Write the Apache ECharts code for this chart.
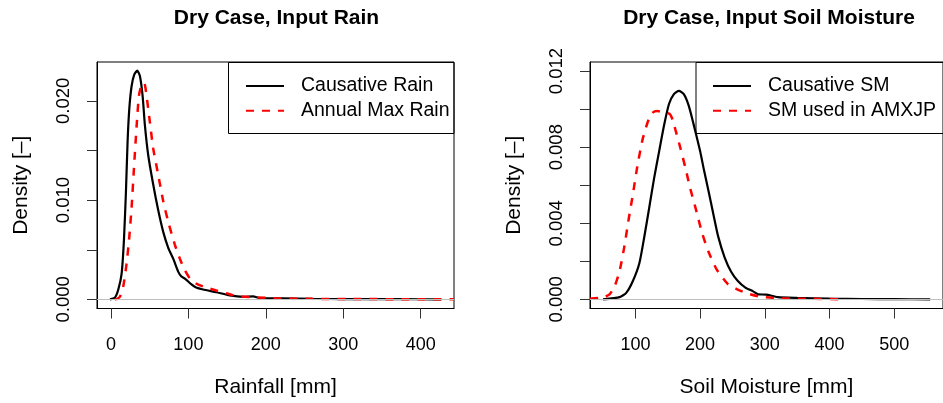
<!DOCTYPE html>
<html>
<head>
<meta charset="utf-8">
<script src="https://cdn.jsdelivr.net/npm/echarts@6/dist/echarts.min.js"></script>
<style>
html,body{margin:0;padding:0;background:#fff;}
#chart{width:943px;height:403px;}
</style>
</head>
<body>
<div id="chart"></div>
<script>
// ---- Data ----
const causativeRainX = [-1.3, 5, 9.5, 13.8, 16.8, 19.4, 21.5, 23.7, 26.7, 30.1, 34, 37.4, 40.9, 43.9, 48.1, 54.6, 61, 67.5, 74, 80.4, 86.8, 91, 95.5, 104, 110, 119, 136, 153.5, 170.7, 183.6, 192, 222, 260, 300, 350, 400, 426.7];
const causativeRainY = [0, 0.00016, 0.001, 0.0026, 0.006, 0.0109, 0.0159, 0.0192, 0.0215, 0.02265, 0.02305, 0.0225, 0.0205, 0.0175, 0.01455, 0.01157, 0.0090, 0.0068, 0.0052, 0.0041, 0.0028, 0.0023, 0.0021, 0.0015, 0.0012, 0.0010, 0.00072, 0.0004, 0.00026, 0.0003, 0.00013, 0.0001, 0.00005, 0.00003, 0.00002, 0.00001, 0];

const annualMaxRainX = [5, 8, 11.6, 15.9, 20.2, 23.7, 26.7, 29.7, 33.2, 36.1, 39.6, 43, 46, 50.3, 54.6, 61, 67.5, 74, 82.6, 89, 95, 102, 110, 119, 136, 150, 162, 188, 214, 260, 320, 380, 443];
const annualMaxRainY = [0, 0.00005, 0.00026, 0.0013, 0.0036, 0.0063, 0.0093, 0.0132, 0.0175, 0.0205, 0.02166, 0.0218, 0.0205, 0.01785, 0.0152, 0.01256, 0.0099, 0.0078, 0.0055, 0.0041, 0.0030, 0.0021, 0.0016, 0.0013, 0.0009, 0.0006, 0.00033, 0.0002, 0.0001, 0.00005, 0.00003, 0.00002, 0.00001];

const causativeSMX = [50, 75.6, 85.8, 95.9, 106.1, 113.7, 121.4, 129, 136.6, 144.3, 151.9, 159.5, 167.2, 174.8, 182.4, 190, 200, 206, 213, 221, 228, 238, 248, 258, 270, 282, 290, 302, 320, 350, 400, 450, 500, 555.7];
const causativeSMY = [0, 0.00012, 0.00034, 0.00095, 0.0019, 0.00328, 0.00483, 0.00639, 0.00777, 0.00915, 0.01027, 0.01079, 0.01096, 0.01079, 0.01019, 0.0092, 0.0078, 0.0068, 0.0057, 0.0044, 0.0033, 0.0022, 0.00145, 0.00098, 0.00062, 0.00042, 0.00026, 0.00025, 0.00012, 0.00008, 0.00004, 0.00002, 0.00001, 0];

const smAmxjpX = [30, 50, 60, 68, 75.6, 83, 89.5, 96, 103, 111, 118.8, 126, 134, 144, 153, 158, 162, 170, 177.4, 185, 193, 203, 213, 226, 243, 259, 274, 294, 330, 370, 414];
const smAmxjpY = [0.00003, 0.0001, 0.00026, 0.0007, 0.0015, 0.0028, 0.0042, 0.0055, 0.0070, 0.0084, 0.0093, 0.0098, 0.0099, 0.00982, 0.00975, 0.0094, 0.0089, 0.0079, 0.0069, 0.0058, 0.0048, 0.0035, 0.0025, 0.00155, 0.0008, 0.0005, 0.0003, 0.00013, 0.00005, 0.00003, 0.00001];

const rainXTicks = [0, 100, 200, 300, 400];
const rainYTicks = [0, 0.005, 0.010, 0.015, 0.020];
const rainYLabels = [0, 0.010, 0.020];
const smXTicks = [100, 200, 300, 400, 500];
const smYTicks = [0, 0.002, 0.004, 0.006, 0.008, 0.010, 0.012];
const smYLabels = [0, 0.004, 0.008, 0.012];

const titles = ['Dry Case, Input Rain', 'Dry Case, Input Soil Moisture'];
const seriesNames = ['Causative Rain', 'Annual Max Rain', 'Causative SM', 'SM used in AMXJP'];

// ---- Chart ----
const FONT = 'Liberation Sans, Arial, Helvetica, sans-serif';
const zip = (xs, ys) => xs.map((x, i) => [x, ys[i]]);

function xAxisCfg(gridIndex, min, max, ticks, name) {
  return {
    type: 'value', gridIndex, min, max,
    name, nameLocation: 'middle', nameGap: 68.5,
    nameTextStyle: {fontSize: 21, color: '#000', fontFamily: FONT},
    axisLine: {show: true, onZero: false, lineStyle: {color: '#000', width: 1}},
    axisTick: {show: true, inside: false, length: 10, customValues: ticks, lineStyle: {color: '#333', width: 1}},
    axisLabel: {show: true, customValues: ticks, margin: 28, fontSize: 18, color: '#000', fontFamily: FONT},
    splitLine: {show: false}
  };
}
function yAxisCfg(gridIndex, min, max, ticks, labels) {
  return {
    type: 'value', gridIndex, min, max,
    name: 'Density [–]', nameLocation: 'middle', nameGap: 65.5, nameRotate: 90,
    nameTextStyle: {fontSize: 21, color: '#000', fontFamily: FONT},
    axisLine: {show: true, onZero: false, lineStyle: {color: '#000', width: 1}},
    axisTick: {show: true, inside: false, length: 10, customValues: ticks, lineStyle: {color: '#333', width: 1}},
    axisLabel: {show: true, customValues: labels, rotate: 90, margin: 24, fontSize: 18.5, color: '#000', fontFamily: FONT,
      formatter: v => v.toFixed(3)},
    splitLine: {show: false}
  };
}
const zeroLine = {
  silent: true, symbol: 'none', label: {show: false},
  lineStyle: {color: '#bebebe', type: 'solid', width: 1},
  data: [{yAxis: 0}]
};
function lineSeries(name, idx, data, color, dashed, withZero) {
  const s = {
    name, type: 'line', xAxisIndex: idx, yAxisIndex: idx, data,
    symbol: 'none', showSymbol: false, smooth: 0.2, clip: true,
    lineStyle: {color, width: dashed ? 2.5 : 2.2, type: dashed ? [8, 8] : 'solid', cap: 'butt'},
    itemStyle: {color},
    emphasis: {disabled: true}, animation: false, z: dashed ? 3 : 2
  };
  if (withZero) s.markLine = zeroLine;
  return s;
}
function legendCfg(names, left) {
  return {
    data: names, orient: 'vertical', left, top: 76, padding: 0,
    itemWidth: 38, itemHeight: 18, itemGap: 4.8,
    selectedMode: false,
    itemStyle: {opacity: 0},
    textStyle: {fontSize: 19.5, color: '#000', fontFamily: FONT, padding: [0, 0, 0, 12]}
  };
}

const chart = echarts.init(document.getElementById('chart'), null, {renderer: 'canvas'});
chart.setOption({
  animation: false,
  backgroundColor: '#fff',
  title: [
    {text: titles[0], left: 271.5, top: 3, textAlign: 'center', textStyle: {fontSize: 21, fontWeight: 'bold', color: '#000', fontFamily: FONT}},
    {text: titles[1], left: 764, top: 3, textAlign: 'center', textStyle: {fontSize: 21, fontWeight: 'bold', color: '#000', fontFamily: FONT}}
  ],
  grid: [
    {left: 97, top: 62, width: 357, height: 250, show: true, borderColor: '#000', borderWidth: 1, backgroundColor: 'transparent', containLabel: false},
    {left: 590, top: 62, width: 357, height: 250, show: true, borderColor: '#000', borderWidth: 1, backgroundColor: 'transparent', containLabel: false}
  ],
  xAxis: [
    xAxisCfg(0, -18, 443, rainXTicks, 'Rainfall [mm]'),
    xAxisCfg(1, 29.8, 575.5, smXTicks, 'Soil Moisture [mm]')
  ],
  yAxis: [
    yAxisCfg(0, -0.00092, 0.02392, rainYTicks, rainYLabels),
    yAxisCfg(1, -0.00048, 0.01248, smYTicks, smYLabels)
  ],
  legend: [
    legendCfg([seriesNames[0], seriesNames[1]], 245),
    legendCfg([seriesNames[2], seriesNames[3]], 712)
  ],
  graphic: [
    {type: 'rect', shape: {x: 228.5, y: 62.5, width: 225.5, height: 71}, style: {fill: 'none', stroke: '#000', lineWidth: 1}, silent: true, z: 10},
    {type: 'rect', shape: {x: 696, y: 62.5, width: 260, height: 71}, style: {fill: 'none', stroke: '#000', lineWidth: 1}, silent: true, z: 10}
  ],
  series: [
    lineSeries(seriesNames[0], 0, zip(causativeRainX, causativeRainY), '#000000', false, true),
    lineSeries(seriesNames[1], 0, zip(annualMaxRainX, annualMaxRainY), '#ff0000', true, false),
    lineSeries(seriesNames[2], 1, zip(causativeSMX, causativeSMY), '#000000', false, true),
    lineSeries(seriesNames[3], 1, zip(smAmxjpX, smAmxjpY), '#ff0000', true, false)
  ]
});
</script>
</body>
</html>
